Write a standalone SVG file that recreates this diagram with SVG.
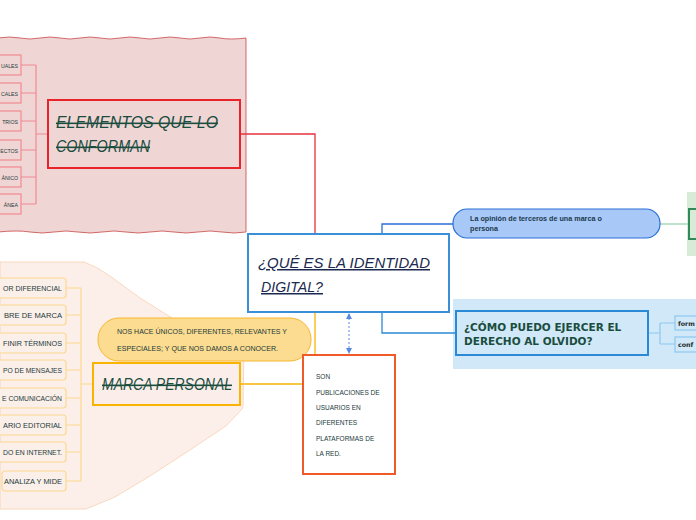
<svg xmlns="http://www.w3.org/2000/svg" width="696" height="520" viewBox="0 0 696 520">
<defs>
<marker id="arr" viewBox="0 0 6 6" refX="5" refY="3" markerWidth="6" markerHeight="6" orient="auto-start-reverse"><path d="M0,0 L6,3 L0,6 z" fill="#5a8ae0"/></marker>
<style>
.hand{font-family:"Liberation Sans",Arial,sans-serif;font-style:italic;}
.small{font-family:"Liberation Sans",Arial,sans-serif;font-size:6.5px;fill:#1b3a3a;}
.tiny{font-family:"Liberation Sans",Arial,sans-serif;font-size:5.2px;fill:#1b3a3a;}
.redItem{fill:#f0d5d5;stroke:#f08a90;stroke-width:1.2;}
.orItem{fill:#fbefe9;stroke:#fcd890;stroke-width:1.2;}
.bluItem{fill:#d0e8f8;stroke:#8cc8f0;stroke-width:1.2;}
.title{fill:#1b4d3e;font-size:16px;text-decoration:line-through;}
</style>
</defs>
<rect width="696" height="520" fill="#ffffff"/>
<!-- regions -->
<path d="M-2,38 Q10,36 20,38 T40,38 T60,38 T80,38 T100,38 T120,38 T140,38 T160,38 T180,38 T200,38 T220,38 T246,38 L246,232 Q234,234 222,232 T198,232 T174,232 T150,232 T126,232 T102,232 T78,232 T54,232 T30,232 T-2,232 Z" fill="#f0d5d5" stroke="#c84848" stroke-width="0.8"/>
<path d="M0,262 L84,262 Q96,266 110,276 L140,298 L172,318 L205,334 L238,344 L244,350 L243,408 L226,426 L190,450 L150,476 L115,497 L86,509 L0,509 Z" fill="#fcefe9" stroke="#f8d0b0" stroke-width="0.8"/>
<rect x="687" y="192" width="12" height="64" fill="#d8ead8"/>
<rect x="453" y="299" width="246" height="70" fill="#d0e8f8"/>
<!-- connectors -->
<g id="connectors" fill="none">
<path d="M36,65 V204 M21,65 H36 M21,93 H36 M21,121 H36 M21,150 H36 M21,177 H36 M21,204 H36 M36,134 H48" stroke="#f08a90" stroke-width="1.2"/>
<path d="M240,134 H315 V234" stroke="#e8323c" stroke-width="1.3"/>
<path d="M81,288 V481 M66,288 H81 M66,315 H81 M66,343 H81 M66,370 H81 M66,398 H81 M66,425 H81 M66,452 H81 M66,481 H81 M81,384 H93" stroke="#fcd890" stroke-width="1.2"/>
<path d="M315,312 V384 H240 M240,384 H303" stroke="#f8b400" stroke-width="1.3"/>
<path d="M382,234 V224 H453" stroke="#2a6fd6" stroke-width="1.3"/>
<path d="M660,224 H689" stroke="#a8d8b8" stroke-width="1.5"/>
<path d="M382,312 V333 H456" stroke="#2a8ad6" stroke-width="1.3"/>
<path d="M648,333 H660 M660,323 V344 M660,323 H675 M660,344 H675" stroke="#8cc8f0" stroke-width="1.2"/>
<path d="M349,314 V353" stroke="#5a8ae0" stroke-width="1" stroke-dasharray="2,2" marker-start="url(#arr)" marker-end="url(#arr)"/>
</g>
<!-- red items -->
<g id="red-items">
<rect class="redItem" x="-5" y="55" width="26" height="20"/><text class="tiny" x="18" y="67.5" text-anchor="end">UALES</text>
<rect class="redItem" x="-5" y="83" width="26" height="20"/><text class="tiny" x="18" y="95.5" text-anchor="end" fill="#2a3a6a">CALES</text>
<rect class="redItem" x="-5" y="111" width="26" height="20"/><text class="tiny" x="18" y="123.5" text-anchor="end">TRIOS</text>
<rect class="redItem" x="-5" y="140" width="26" height="20"/><text class="tiny" x="18" y="152.5" text-anchor="end">ECTOS</text>
<rect class="redItem" x="-5" y="167" width="26" height="20"/><text class="tiny" x="18" y="179.5" text-anchor="end">ÁNICO</text>
<rect class="redItem" x="-5" y="194" width="26" height="20"/><text class="tiny" x="18" y="206.5" text-anchor="end">ÁNEA</text>
</g>
<g id="elementos">
<rect x="48" y="100" width="192" height="68" fill="#f0d5d5" stroke="#e8232c" stroke-width="2"/>
<text class="hand title" x="56" y="128" textLength="162" lengthAdjust="spacingAndGlyphs">ELEMENTOS QUE LO</text>
<text class="hand title" x="56" y="152" textLength="94" lengthAdjust="spacingAndGlyphs">CONFORMAN</text>
</g>
<g id="central">
<rect x="248" y="234" width="201" height="78" fill="#ffffff" stroke="#3a8fd6" stroke-width="2"/>
<text class="hand" x="258" y="268" font-size="15" fill="#1b2a4e" text-decoration="underline" textLength="172" lengthAdjust="spacingAndGlyphs">¿QUÉ ES LA IDENTIDAD</text>
<text class="hand" x="261" y="292" font-size="15" fill="#1b2a4e" text-decoration="underline" textLength="62" lengthAdjust="spacingAndGlyphs">DIGITAL?</text>
</g>
<g id="opinion">
<rect x="453" y="209" width="207" height="29" rx="14" fill="#a8c8f8" stroke="#2a6fd6" stroke-width="1.2"/>
<text x="470" y="221" font-family="Liberation Sans,Arial,sans-serif" font-size="7.2" font-weight="bold" fill="#1b3a4b">La opinión de terceros de una marca o</text>
<text x="470" y="231" font-family="Liberation Sans,Arial,sans-serif" font-size="7.2" font-weight="bold" fill="#1b3a4b">persona</text>
</g>
<g id="green-node">
<rect x="689" y="209" width="20" height="30" fill="#d8ead8" stroke="#2e8b57" stroke-width="2"/>
</g>
<g id="olvido">
<rect x="456" y="311" width="192" height="44" fill="#d0e8f8" stroke="#2a8ad6" stroke-width="2"/>
<text x="464" y="331" font-family="DejaVu Sans,Verdana,sans-serif" font-size="10.5" font-weight="bold" fill="#1b4d3e">¿CÓMO PUEDO EJERCER EL</text>
<text x="464" y="345" font-family="DejaVu Sans,Verdana,sans-serif" font-size="10.5" font-weight="bold" fill="#1b4d3e">DERECHO AL OLVIDO?</text>
</g>
<g id="olvido-items">
<rect class="bluItem" x="675" y="316" width="30" height="14"/><text x="678" y="326" font-family="DejaVu Sans,Verdana,sans-serif" font-size="6.3" font-weight="bold" fill="#1b2a2a">form</text>
<rect class="bluItem" x="675" y="337" width="30" height="15"/><text x="678" y="347" font-family="DejaVu Sans,Verdana,sans-serif" font-size="6.3" font-weight="bold" fill="#1b2a2a">conf</text>
</g>
<g id="orange-items">
<rect class="orItem" x="-5" y="278" width="71" height="20" rx="3"/><text class="small" x="62" y="291" text-anchor="end" textLength="59" lengthAdjust="spacingAndGlyphs">OR DIFERENCIAL</text>
<rect class="orItem" x="-5" y="305" width="71" height="20" rx="3"/><text class="small" x="62" y="318" text-anchor="end" textLength="58" lengthAdjust="spacingAndGlyphs">BRE DE MARCA</text>
<rect class="orItem" x="-5" y="333" width="71" height="20" rx="3"/><text class="small" x="62" y="346" text-anchor="end" textLength="59" lengthAdjust="spacingAndGlyphs">FINIR TÉRMINOS</text>
<rect class="orItem" x="-5" y="360" width="71" height="20" rx="3"/><text class="small" x="62" y="373" text-anchor="end" textLength="59" lengthAdjust="spacingAndGlyphs">PO DE MENSAJES</text>
<rect class="orItem" x="-5" y="388" width="71" height="20" rx="3"/><text class="small" x="62" y="401" text-anchor="end" textLength="60" lengthAdjust="spacingAndGlyphs">E COMUNICACIÓN</text>
<rect class="orItem" x="-5" y="415" width="71" height="20" rx="3"/><text class="small" x="62" y="428" text-anchor="end" textLength="59" lengthAdjust="spacingAndGlyphs">ARIO EDITORIAL</text>
<rect class="orItem" x="-5" y="442" width="71" height="20" rx="3"/><text class="small" x="62" y="455" text-anchor="end" textLength="59" lengthAdjust="spacingAndGlyphs">DO EN INTERNET.</text>
<rect class="orItem" x="2" y="471" width="64" height="20" rx="3"/><text class="small" x="62" y="484" text-anchor="end" textLength="58" lengthAdjust="spacingAndGlyphs">ANALIZA Y MIDE</text>
</g>
<g id="unicos">
<rect x="98" y="318" width="213" height="43" rx="21" fill="#fcdc90" stroke="#f8b830" stroke-width="1"/>
<text class="small" x="117" y="334" textLength="170" lengthAdjust="spacingAndGlyphs">NOS HACE ÚNICOS, DIFERENTES, RELEVANTES Y</text>
<text class="small" x="117" y="351" textLength="161" lengthAdjust="spacingAndGlyphs">ESPECIALES; Y QUE NOS DAMOS A CONOCER.</text>
</g>
<g id="marca">
<rect x="93" y="363" width="147" height="42" fill="#fbeeea" stroke="#f8b400" stroke-width="2"/>
<text class="hand title" x="102" y="390" textLength="130" lengthAdjust="spacingAndGlyphs">MARCA PERSONAL</text>
</g>
<g id="publicaciones">
<rect x="303" y="355" width="92" height="119" fill="#ffffff" stroke="#f05a28" stroke-width="2"/>
<text class="small" x="316" y="379">SON</text>
<text class="small" x="316" y="395">PUBLICACIONES DE</text>
<text class="small" x="316" y="410">USUARIOS EN</text>
<text class="small" x="316" y="425">DIFERENTES</text>
<text class="small" x="316" y="441">PLATAFORMAS DE</text>
<text class="small" x="316" y="456">LA RED.</text>
</g>
</svg>
